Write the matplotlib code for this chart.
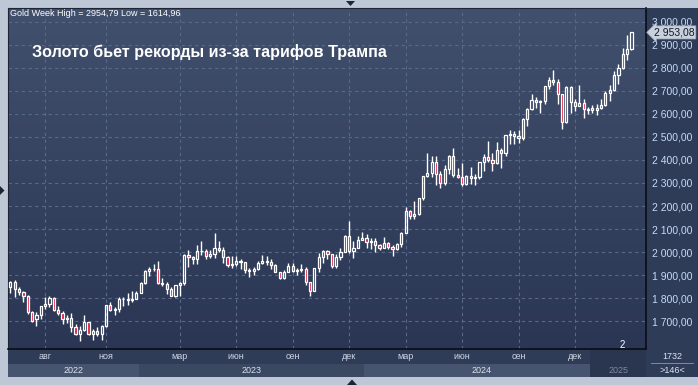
import numpy as np
import pandas as pd
import matplotlib
matplotlib.use("Agg")
import matplotlib.pyplot as plt
import matplotlib.transforms as mtransforms
from matplotlib.patches import Polygon
from matplotlib.colors import LinearSegmentedColormap

# weekly bars; the holiday weeks around new year 2025 are split in two
dates = list(pd.date_range("2022-06-06", "2024-12-16", freq="7D")) + \
    list(pd.to_datetime(["2024-12-23", "2024-12-26", "2024-12-30", "2025-01-02"])) + \
    list(pd.date_range("2025-01-06", "2025-02-17", freq="7D"))

opens = [1850, 1871, 1840, 1827, 1812, 1742, 1708, 1727, 1766, 1775, 1802, 1747, 1738, 1712, 1716,
         1675, 1644, 1661, 1695, 1644, 1656, 1645, 1681, 1770, 1751, 1754, 1797, 1797, 1793, 1798,
         1824, 1865, 1920, 1926, 1928, 1865, 1862, 1842, 1811, 1856, 1868, 1989, 1978, 1969, 2007,
         2004, 1983, 1990, 2016, 2011, 1978, 1946, 1948, 1961, 1958, 1921, 1919, 1925, 1955, 1962,
         1959, 1943, 1914, 1889, 1914, 1940, 1919, 1924, 1925, 1870, 1833, 1932, 1981, 2006, 1993,
         1940, 1981, 2002, 2072, 2004, 2019, 2053, 2063, 2045, 2049, 2029, 2018, 2039, 2024, 2013,
         2035, 2083, 2179, 2155, 2165, 2233, 2329, 2344, 2392, 2337, 2302, 2360, 2415, 2333, 2327,
         2294, 2332, 2322, 2327, 2392, 2411, 2400, 2387, 2443, 2431, 2508, 2512, 2503, 2497, 2578,
         2622, 2658, 2653, 2657, 2721, 2747, 2737, 2685, 2563, 2716, 2650, 2633, 2648, 2622, 2625,
         2616, 2624, 2640, 2690, 2702, 2770, 2800, 2861, 2883]
highs = [1877, 1879, 1847, 1830, 1814, 1745, 1739, 1767, 1807, 1808, 1806, 1765, 1745, 1729, 1735,
         1688, 1680, 1729, 1699, 1668, 1675, 1682, 1771, 1786, 1761, 1804, 1807, 1824, 1833, 1833,
         1869, 1922, 1936, 1949, 1960, 1890, 1870, 1848, 1858, 1870, 1994, 2009, 1985, 2032, 2048,
         2015, 2009, 2081, 2048, 2022, 1985, 1983, 1983, 1971, 1959, 1933, 1935, 1963, 1987, 1982,
         1972, 1947, 1916, 1922, 1953, 1952, 1932, 1947, 1936, 1871, 1933, 1997, 2009, 2010, 1994,
         1993, 2017, 2075, 2135, 2048, 2071, 2088, 2079, 2062, 2062, 2037, 2065, 2042, 2031, 2041,
         2088, 2195, 2185, 2222, 2236, 2330, 2431, 2418, 2417, 2353, 2378, 2422, 2450, 2364, 2388,
         2335, 2368, 2340, 2392, 2424, 2483, 2432, 2477, 2450, 2509, 2531, 2525, 2529, 2581, 2625,
         2685, 2672, 2660, 2722, 2758, 2790, 2750, 2688, 2721, 2721, 2665, 2726, 2664, 2630, 2639,
         2641, 2665, 2698, 2726, 2786, 2817, 2886, 2942, 2954.79]
lows = [1825, 1805, 1816, 1784, 1732, 1697, 1680, 1711, 1754, 1764, 1745, 1728, 1688, 1691, 1654,
        1640, 1614.96, 1660, 1642, 1617, 1638, 1617, 1676, 1746, 1727, 1740, 1765, 1773, 1784, 1795,
        1822, 1861, 1896, 1917, 1860, 1853, 1819, 1809, 1804, 1809, 1858, 1935, 1949, 1950, 1986,
        1969, 1975, 1975, 2000, 1952, 1936, 1932, 1940, 1925, 1911, 1893, 1902, 1922, 1950, 1943,
        1925, 1912, 1885, 1884, 1912, 1915, 1900, 1913, 1857, 1810, 1832, 1915, 1953, 1970, 1932,
        1931, 1965, 2001, 1995, 1973, 2016, 2052, 2016, 2013, 2002, 2010, 2016, 2015, 1984, 2011,
        2024, 2082, 2146, 2146, 2163, 2228, 2325, 2324, 2291, 2277, 2291, 2339, 2325, 2320, 2286,
        2293, 2295, 2293, 2319, 2353, 2391, 2353, 2382, 2364, 2415, 2470, 2471, 2472, 2485, 2546,
        2615, 2624, 2603, 2641, 2708, 2723, 2643, 2536, 2560, 2605, 2613, 2632, 2583, 2600, 2605,
        2596, 2622, 2634, 2656, 2700, 2730, 2794, 2832, 2877]
closes = [1871, 1840, 1827, 1811, 1742, 1703, 1727, 1766, 1775, 1802, 1747, 1737, 1712, 1716, 1675,
          1644, 1662, 1695, 1644, 1656, 1645, 1681, 1770, 1751, 1754, 1797, 1798, 1793, 1798, 1824,
          1865, 1920, 1926, 1928, 1865, 1862, 1842, 1811, 1856, 1868, 1989, 1978, 1969, 2007, 2004,
          1983, 1990, 2016, 2011, 1978, 1946, 1948, 1961, 1958, 1921, 1919, 1925, 1955, 1962, 1959,
          1943, 1914, 1889, 1914, 1940, 1919, 1924, 1925, 1870, 1833, 1932, 1981, 2006, 1993, 1940,
          1981, 2002, 2072, 2004, 2019, 2053, 2063, 2045, 2049, 2029, 2018, 2039, 2024, 2013, 2035,
          2083, 2179, 2155, 2165, 2233, 2329, 2344, 2392, 2337, 2302, 2360, 2415, 2333, 2327, 2294,
          2332, 2322, 2327, 2392, 2411, 2400, 2387, 2443, 2431, 2508, 2512, 2503, 2497, 2578, 2622,
          2658, 2653, 2657, 2721, 2747, 2737, 2685, 2563, 2716, 2650, 2633, 2648, 2622, 2617, 2616,
          2624, 2640, 2690, 2702, 2770, 2800, 2861, 2883, 2953.08]

tick_months = [(2022, 8), (2022, 11), (2023, 3), (2023, 6), (2023, 9), (2023, 12),
               (2024, 3), (2024, 6), (2024, 9), (2024, 12)]
month_names = ["янв", "фев", "мар", "апр", "май", "июн", "июл", "авг", "сен", "окт", "ноя", "дек"]
years = [2022, 2023, 2024, 2025]
price_ticks = list(range(1700, 3001, 100))

title = "Золото бьет рекорды из-за тарифов Трампа"
info = "Gold Week High = 2954,79 Low = 1614,96"

plt.rcParams["font.family"] = ["Liberation Sans", "DejaVu Sans"]

W, H = 698, 385
def box(x0, y0, x1, y1):
    return [x0 / W, 1 - y1 / H, (x1 - x0) / W, (y1 - y0) / H]

def rub(v):
    s = f"{v:,.2f}"
    return s.replace(",", " ").replace(".", ",")

o = np.array(opens, float); h = np.array(highs, float)
l = np.array(lows, float); c = np.array(closes, float)
idx = np.arange(len(dates))
dts = pd.DatetimeIndex(dates)
xlim = (-0.55, 146.35)

fig = plt.figure(figsize=(W / 100, H / 100), dpi=100)
fig.patch.set_facecolor("#bec7d5")

# right price panel
axp = fig.add_axes(box(646, 8, 698, 349))
axp.set_facecolor("#2f3c58")
axp.set_xticks([]); axp.set_yticks([])
for s in axp.spines.values():
    s.set_visible(False)

# bottom time strip
axb = fig.add_axes(box(8, 349, 646, 377))
axb.set_facecolor("#2f3c58")
axb.set_xlim(*xlim); axb.set_ylim(0, 1)
axb.set_xticks([]); axb.set_yticks([])
for s in axb.spines.values():
    s.set_visible(False)
band_cols = {2022: "#46546f", 2023: "#3a4862", 2024: "#46546f", 2025: "#2a3550"}
for yr in years:
    sel = idx[dts.year == yr]
    x0, x1 = sel[0] - 0.5, sel[-1] + 0.5
    if yr == years[-1]:
        x0 -= 2
        x1 = xlim[1]
        axb.axvspan(x0, x1, 0, 1, color=band_cols[yr], lw=0)
    else:
        axb.axvspan(x0, x1, 0, 0.46, color=band_cols[yr], lw=0)
    axb.text((x0 + x1) / 2, 0.23, str(yr), ha="center", va="center", fontsize=6.5,
             color="#7d889c" if yr == years[-1] else "#dde3ee")

tick_pos = []
for yr, mo in tick_months:
    pos = idx[(dts.year == yr) & (dts.month == mo)][0]
    tick_pos.append(pos)
    axb.text(pos, 0.72, month_names[mo - 1], ha="center", va="center", fontsize=6.5, color="#d0d7e3")

# bottom-right corner box
axr = fig.add_axes(box(646, 349, 698, 377))
axr.set_facecolor("#2f3c58")
axr.set_xticks([]); axr.set_yticks([])
for s in axr.spines.values():
    s.set_visible(False)
axr.text(0.5, 0.74, "1732", ha="center", va="center", fontsize=6.5, color="#dde3ee", transform=axr.transAxes)
axr.text(0.5, 0.24, ">146<", ha="center", va="center", fontsize=6.5, color="#dde3ee", transform=axr.transAxes)
axr.plot([0.1, 0.9], [0.5, 0.5], color="#8c97ab", lw=0.6, transform=axr.transAxes)

# main chart
ax = fig.add_axes(box(8, 8, 646, 349))
grad = np.linspace(0, 1, 256).reshape(-1, 1)
cmap = LinearSegmentedColormap.from_list("bg", ["#41506d", "#2a3653"])
ax.imshow(grad, extent=[0, 1, 0, 1], transform=ax.transAxes, cmap=cmap, aspect="auto", zorder=0)
ax.set_xlim(*xlim)
ax.set_ylim(1580, 3059)

ax.set_xticks(tick_pos)
ax.set_yticks(price_ticks)
ax.grid(True, color="#58698a", lw=0.8, ls=(0, (3, 3)), zorder=1)
ax.tick_params(axis="x", length=0, labelbottom=False)
ax.tick_params(axis="y", length=0, left=False, labelleft=False, right=False, labelright=True,
               labelsize=7.5, labelcolor="#c4daf6", pad=4)
ax.set_yticklabels([rub(v) for v in price_ticks])
for side in ["left", "top"]:
    ax.spines[side].set_color("#1c2436")
    ax.spines[side].set_linewidth(0.8)
for side in ["right", "bottom"]:
    ax.spines[side].set_color("#0a0d14")
    ax.spines[side].set_linewidth(1.2)

# candles
up = c >= o
top = np.maximum(o, c)
bot = np.minimum(o, c)
ax.vlines(idx, top, h, color="white", lw=1.0, zorder=3)
ax.vlines(idx, l, bot, color="white", lw=1.0, zorder=3)
body = np.maximum(top - bot, 1.5)
ax.bar(idx[up], body[up], bottom=bot[up], width=0.5, facecolor="none", edgecolor="white", lw=0.9, zorder=4)
ax.bar(idx[~up], body[~up], bottom=bot[~up], width=0.5, facecolor="#e0143c", edgecolor="white", lw=0.9, zorder=4)

# last price tag
trans = mtransforms.blended_transform_factory(ax.transAxes, ax.transData)
ax.text(1.012, c[-1], rub(c[-1]), transform=trans, ha="left", va="center", fontsize=7.5, color="#10182a",
        bbox=dict(boxstyle="larrow,pad=0.15", facecolor="#c9d1dc", edgecolor="#9aa5b5", lw=0.5), zorder=6,
        clip_on=False)

fig.text(10 / W, 1 - 14 / H, info, ha="left", va="center", fontsize=6.5, color="white")
fig.text(32 / W, 1 - 52 / H, title, ha="left", va="center", fontsize=11.6, fontweight="bold", color="white")
fig.text(622 / W, 1 - 345 / H, "2", ha="center", va="center", fontsize=7, color="white")

# little navigation triangles on the frame
for pts in ([(346, 1), (355, 1), (350.5, 6)], [(0, 186), (0, 195), (4.5, 190.5)], [(347, 385), (357, 385), (352, 379.5)]):
    fig.patches.append(Polygon([(x / W, 1 - y / H) for x, y in pts], closed=True, transform=fig.transFigure,
                               facecolor="#1c2435", edgecolor="none"))

fig.savefig("out.png", dpi=100, facecolor=fig.get_facecolor())
